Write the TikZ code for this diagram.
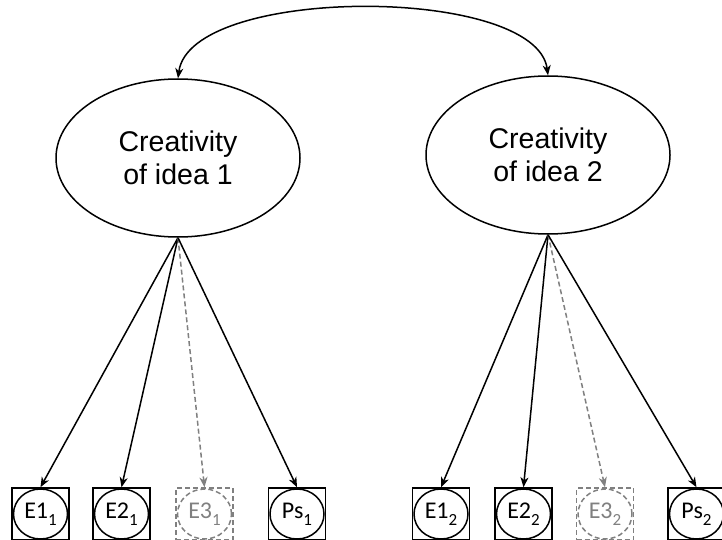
\documentclass[tikz,border=0pt]{standalone}
\usepackage{fontspec}
\setmainfont{Liberation Sans}
\newfontfamily\labelfont{Carlito}
\usetikzlibrary{shapes.geometric,arrows.meta}
\newcommand{\idx}[1]{\raisebox{-0.3em}{\fontsize{17}{17}\selectfont #1}}

\begin{document}
\begin{tikzpicture}[x=1pt,y=-1pt,line width=1.5pt,
    >={Stealth[length=10pt,width=8pt,inset=3pt]},
    factor/.style={draw,ellipse,minimum width=244pt,minimum height=158pt,
      inner sep=0pt,align=center,font=\fontsize{28.5}{33}\selectfont},
    indic/.style={draw,rectangle,minimum width=57pt,minimum height=52pt,inner sep=0pt,
      font=\labelfont\fontsize{24}{26}\selectfont,
      path picture={\draw[#1] (path picture bounding box.center) ellipse (27pt and 25pt);}},
    indic/.default={},
    lost/.style={gray,dash pattern=on 5pt off 3pt}]
    \useasboundingbox (0,0) rectangle (722,540);

    \begin{scope}
    \node[factor] (c1) at (178,158) {Creativity\\of idea 1};
    \node[indic] (e11) at (40.5,514) {E1\idx{1}};
    \node[indic] (e21) at (121.5,514) {E2\idx{1}};
    \node[indic=lost,lost,text=gray] (e31) at (204.5,514) {E3\idx{1}};
    \node[indic] (ps1) at (297,514) {Ps\idx{1}};

    \draw[->] (c1.south) -- (e11.north);
    \draw[->] (c1.south) -- (e21.north);
    \draw[->,lost] (c1.south) -- (e31.north);
    \draw[->] (c1.south) -- (ps1.north);
    \end{scope}

    \begin{scope}
    \node[factor] (c2) at (548,155) {Creativity\\of idea 2};
    \node[indic] (e12) at (441,514) {E1\idx{2}};
    \node[indic] (e22) at (523.5,514) {E2\idx{2}};
    \node[indic=lost,lost,text=gray] (e32) at (605,514) {E3\idx{2}};
    \node[indic] (ps2) at (696.5,514) {Ps\idx{2}};

    \draw[->] (c2.south) -- (e12.north);
    \draw[->] (c2.south) -- (e22.north);
    \draw[->,lost] (c2.south) -- (e32.north);
    \draw[->] (c2.south) -- (ps2.north);
    \end{scope}

    \draw[<->] (c1.north) .. controls (190,-15) and (536,-15) .. (c2.north);
  \end{tikzpicture}
\end{document}
